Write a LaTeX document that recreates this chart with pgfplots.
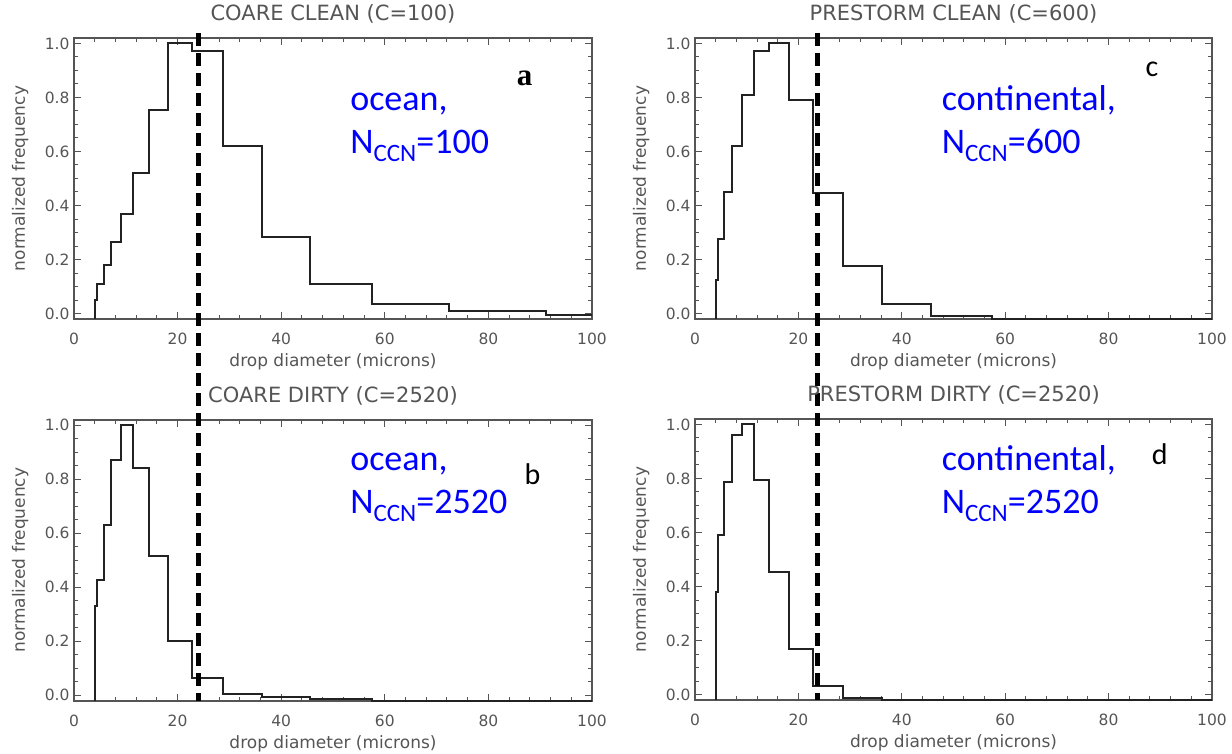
\documentclass[border=0pt]{standalone}
\usepackage{pgfplots}
\pgfplotsset{compat=1.18}
\usepackage{fontspec}
\setmainfont{DejaVu Sans}
\newfontfamily\calfont{Carlito}
\newfontfamily\letterserif{Liberation Serif}
\definecolor{axgray}{HTML}{555555}
\definecolor{histc}{HTML}{222222}
\pgfplotsset{
  panel/.style={
    scale only axis, width=518pt, height=281pt,
    anchor=south west,
    xmin=0, xmax=100, ymin=-0.02, ymax=1.02,
    xtick={0,20,40,60,80,100}, ytick={0,0.2,0.4,0.6,0.8,1.0},
    minor x tick num=4, minor y tick num=3,
    tick align=inside, major tick length=7pt, minor tick length=4pt,
    tick style={axgray, line width=1pt},
    axis line style={axgray, line width=1.8pt},
    /pgf/number format/assume math mode=true,
    yticklabel style={/pgf/number format/fixed, /pgf/number format/fixed zerofill, /pgf/number format/precision=1},
    tick label style={font=\fontsize{15.5}{16}\selectfont, text=axgray},
    xticklabel style={anchor=center, yshift=-20pt},
    yticklabel style={anchor=east, xshift=-1pt},
    xlabel={drop diameter (microns)}, ylabel={normalized frequency},
    label style={font=\fontsize{17}{18}\selectfont, text=axgray},
    xlabel style={at={(axis description cs:0.5,-0.153)}, anchor=center},
    ylabel style={at={(axis description cs:-0.104,0.5)}, anchor=center},
    title style={font=\fontsize{21}{22}\selectfont, text=axgray, at={(axis description cs:0.5,1)}, anchor=center, yshift=18pt},
    clip=false,
  },
  hist/.style={const plot, mark=none, draw=histc, line width=2pt},
}
\tikzset{
  blue text/.style={anchor=base west, text=blue, font=\calfont\fontsize{36}{38}\selectfont, inner sep=0pt},
  panel letter/.style={anchor=center, text=black, font=\calfont\fontsize{30}{32}\selectfont},
  refline/.style={black, line width=5pt, dash pattern=on 13pt off 7pt},
}
\newcommand{\sub}[1]{\raisebox{-8pt}{\fontsize{25}{26}\selectfont #1}}
\begin{document}
\begin{tikzpicture}
\useasboundingbox (0,0) rectangle (1232pt,754pt);
% panel a
\begin{axis}[panel, at={(74pt,435pt)}, title={COARE CLEAN (C=100)}]
\addplot[hist] coordinates {(4,-0.02) (4,0.05) (4.52,0.11) (5.7,0.18) (7.18,0.265) (9.05,0.37) (11.4,0.52) (14.4,0.755) (18.1,1.0) (22.8,0.97) (28.7,0.62) (36.2,0.285) (45.6,0.11) (57.5,0.036) (72.4,0.009) (91.2,-0.004) (100,-0.004)};
\node[blue text] at (axis cs:53.3,0.753) {ocean,};
\node[blue text] at (axis cs:53.3,0.594) {N\sub{CCN}=100};
\node[panel letter, font=\letterserif\bfseries\fontsize{31}{32}\selectfont] at (axis cs:87,0.87) {a};
\end{axis}
% panel c
\begin{axis}[panel, width=517pt, at={(695pt,435pt)}, title={PRESTORM CLEAN (C=600)}]
\addplot[hist] coordinates {(4,-0.02) (4,0.125) (4.52,0.275) (5.7,0.45) (7.18,0.62) (9.05,0.81) (11.4,0.97) (14.4,1.0) (18.1,0.79) (22.8,0.445) (28.7,0.175) (36.2,0.036) (45.6,-0.008) (57.5,-0.02) (100,-0.02)};
\node[blue text] at (axis cs:47.7,0.753) {continental,};
\node[blue text] at (axis cs:47.7,0.594) {N\sub{CCN}=600};
\node[panel letter] at (axis cs:88.4,0.905) {c};
\end{axis}
% panel b
\begin{axis}[panel, at={(74pt,53.3pt)}, title={COARE DIRTY (C=2520)}]
\addplot[hist] coordinates {(4,-0.02) (4,0.33) (4.52,0.425) (5.7,0.63) (7.18,0.87) (9.05,1.0) (11.4,0.84) (14.4,0.515) (18.1,0.2) (22.8,0.064) (28.7,0.006) (36.2,-0.006) (45.6,-0.013) (57.5,-0.02) (100,-0.02)};
\node[blue text] at (axis cs:53.3,0.831) {ocean,};
\node[blue text] at (axis cs:53.3,0.672) {N\sub{CCN}=2520};
\node[panel letter] at (axis cs:88.5,0.82) {b};
\draw[refline] (axis cs:24,2.45) -- (axis cs:24,-0.02);
\end{axis}
% panel d
\begin{axis}[panel, width=517pt, at={(695pt,54pt)}, title={PRESTORM DIRTY (C=2520)}]
\addplot[hist] coordinates {(4,-0.02) (4,0.38) (4.52,0.59) (5.7,0.785) (7.18,0.96) (9.05,1.0) (11.4,0.795) (14.4,0.455) (18.1,0.17) (22.8,0.032) (28.7,-0.011) (36.2,-0.02) (100,-0.02)};
\node[blue text] at (axis cs:47.7,0.831) {continental,};
\node[blue text] at (axis cs:47.7,0.672) {N\sub{CCN}=2520};
\node[panel letter] at (axis cs:89.9,0.89) {d};
\draw[refline] (axis cs:23.7,2.45) -- (axis cs:23.7,-0.02);
\end{axis}
\end{tikzpicture}
\end{document}
